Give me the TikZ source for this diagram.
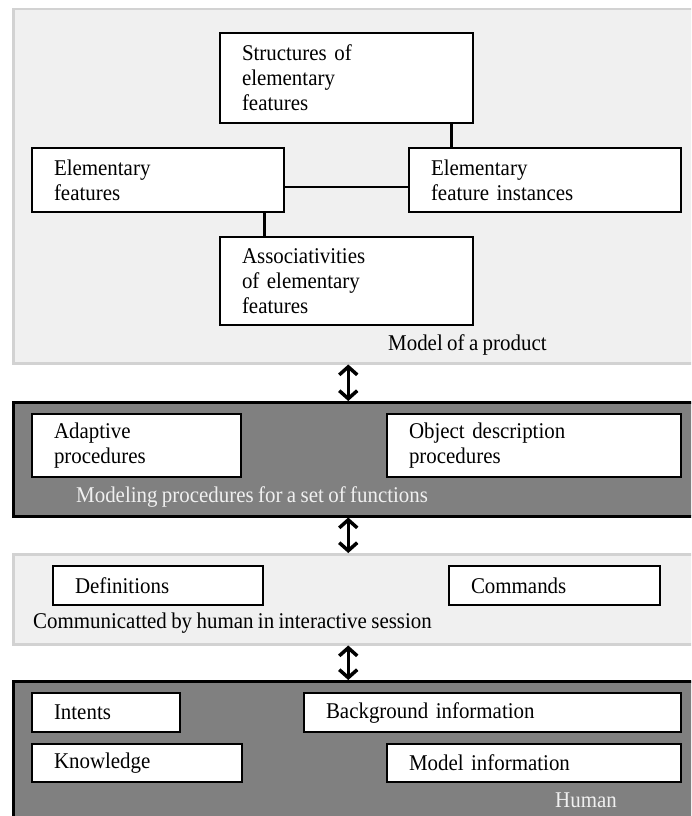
\documentclass[tikz,border=0pt]{standalone}
\usepackage{fontspec}
\setmainfont{Liberation Serif}[FakeStretch=0.93]
\usetikzlibrary{arrows.meta}
\definecolor{panellight}{HTML}{F0F0F0}
\definecolor{panelrule}{HTML}{D2D2D2}
\definecolor{paneldark}{HTML}{808080}
% text of the diagram: slightly condensed serif with tight word spacing
\newcommand\diagfont{\fontsize{22.5}{25}\selectfont
  \fontdimen2\font=4.4pt\fontdimen3\font=1pt\fontdimen4\font=1pt\relax}
\begin{document}
\begin{tikzpicture}[x=1pt,y=-1pt,
  every node/.style={font=\diagfont},
  lightpanel/.style={draw=panelrule, fill=panellight, line width=2.5pt,
    minimum width=688pt, inner sep=0pt, anchor=north west},
  darkpanel/.style={draw=black, fill=paneldark, line width=2.5pt,
    minimum width=688pt, inner sep=0pt, anchor=north west},
  bx/.style={draw=black, fill=white, line width=2.5pt, inner xsep=22pt,
    inner ysep=0pt, align=left},
  link/.style={line width=2.5pt},
  dblarrow/.style={line width=3.5pt,
    {Straight Barb[length=8pt,width=18pt]}-{Straight Barb[length=8pt,width=18pt]}},
  darklabel/.style={text=panellight, inner sep=0pt},
  lightlabel/.style={text=black, inner sep=0pt}]
\useasboundingbox (0,0) rectangle (691,816);
\clip (0,0) rectangle (691,816);

% layers of the model
\node[lightpanel, minimum height=354pt] (P1) at (12,8) {};
\node[darkpanel,  minimum height=114pt] (P2) at (12,401) {};
\node[lightpanel, minimum height=90pt]  (P3) at (12,553) {};
\node[darkpanel,  minimum height=160pt] (P4) at (12,680) {};

% model of a product
\node[bx, text width=209pt, minimum height=90pt] (S) at (346.5,78)
  {Structures of\\elementary\\features};
\node[bx, text width=208pt, minimum height=64pt] (E) at (158,180)
  {Elementary\\features};
\node[bx, text width=228pt, minimum height=64pt] (I) at (545,180)
  {Elementary\\feature instances};
\node[bx, text width=209pt, minimum height=88pt] (A) at (346.5,281)
  {Associativities\\of elementary\\features};
\node[lightlabel, anchor=west] (L1) at (388,345) {Model of a product};

\draw[link] ([xshift=-23pt]S.south east) -- ([xshift=-23pt]S.south east |- I.north);
\draw[link, line width=2pt] ([yshift=-7pt]E.east) -- ([yshift=-7pt]E.east -| I.west);
\draw[link] ([xshift=-21pt]E.south east) -- ([xshift=-21pt]E.south east |- A.north);

% modeling procedures
\node[bx, text width=165pt, minimum height=63pt] (AP) at (136.5,445.5)
  {Adaptive\\procedures};
\node[bx, text width=250pt, minimum height=63pt] (OD) at (534,445.5)
  {Object description\\procedures};
\node[darklabel, anchor=west] (L2) at (76,497)
  {Modeling procedures for a set of functions};

% interactive session
\node[bx, text width=166pt, minimum height=39pt] (DF) at (158,585.5) {Definitions};
\node[bx, text width=167pt, minimum height=39pt] (CM) at (554.5,585.5) {Commands};
\node[lightlabel, anchor=west] (L3) at (33,623)
  {Communicatted by human in interactive session};

% human
\node[bx, text width=104pt, minimum height=39pt] (IN) at (106,712.5) {Intents};
\node[bx, text width=333pt, minimum height=39pt] (BG) at (492.5,712.5) {Background information};
\node[bx, text width=166pt, minimum height=38pt] (KN) at (137,763) {Knowledge};
\node[bx, text width=250pt, minimum height=38pt] (MI) at (534,763) {Model information};
\node[darklabel] (L4) at (586,800) {Human};

% exchanges between layers
\draw[dblarrow] ([xshift=-9pt]P1.south) -- ([xshift=-9pt]P2.north);
\draw[dblarrow] ([xshift=-9pt]P2.south) -- ([xshift=-9pt]P3.north);
\draw[dblarrow] ([xshift=-9pt]P3.south) -- ([xshift=-9pt]P4.north);
\end{tikzpicture}
\end{document}
